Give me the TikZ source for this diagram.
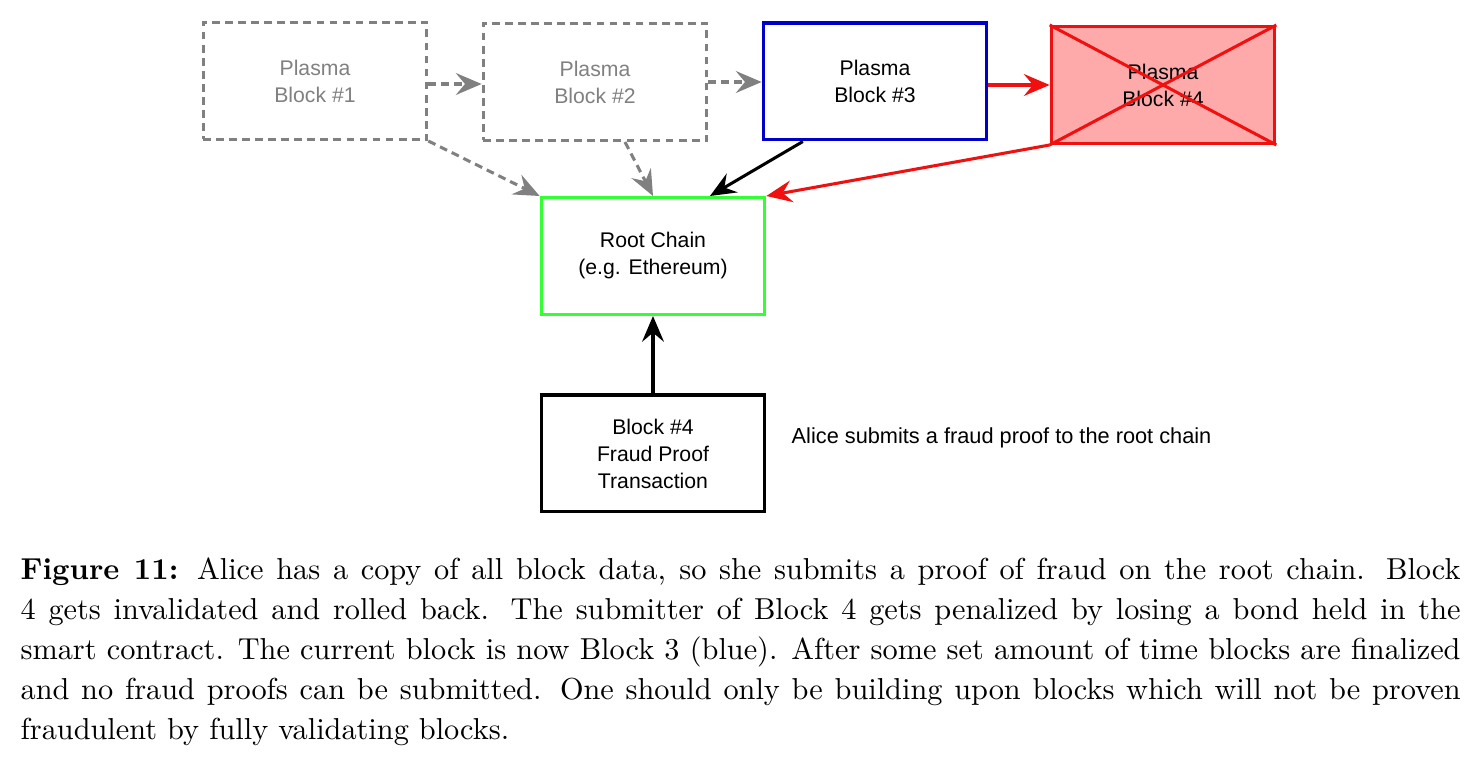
\documentclass[tikz,border=0pt]{standalone}
\usepackage{fontspec}
\newfontfamily\diagfont{Liberation Sans}
\usetikzlibrary{arrows.meta}
\definecolor{plgray}{HTML}{808080}
\definecolor{plblue}{HTML}{0000CC}
\definecolor{plgreen}{HTML}{33FF33}
\definecolor{plred}{HTML}{F01010}
\definecolor{plpink}{HTML}{FFAAAA}

\begin{document}
\begin{tikzpicture}[x=0.33pt, y=-0.33pt,
  blk/.style={draw, line width=1pt, minimum width=73.8pt, minimum height=38.6pt,
    align=center, font=\diagfont\fontsize{7}{8.9}\selectfont},
  old/.style={blk, plgray, text=plgray, dash pattern=on 2.6pt off 1.7pt},
  link/.style={line width=1pt, -{Stealth[length=8.5pt,width=7.2pt,inset=3pt]}},
  oldlink/.style={link, plgray, dash pattern=on 2.6pt off 1.7pt}]
\useasboundingbox (0,0) rectangle (1480,770);
% plasma chain
\node(B1) [old] at (315,81) {Plasma\\Block \#1};
\node(B2) [old] at (595,82) {Plasma\\Block \#2};
\node(B3) [blk, plblue, text=black] at (875,81.5) {Plasma\\Block \#3};
\node(B4) [blk, plred, fill=plpink, text=black] at (1163,85) {Plasma\\Block \#4};
\draw[plred, line width=1pt] (B4.north west) -- (B4.south east) (B4.north east) -- (B4.south west);
% root chain
\node(R) [blk, plgreen, text=black] at (653,256) {Root Chain\\(e.g. Ethereum)};
\node(F) [blk] at (653,453.5) {Block \#4\\Fraud Proof\\Transaction};
\node(T) [anchor=west, font=\diagfont\fontsize{7.18}{8.9}\selectfont] at (781,438) {Alice submits a fraud proof to the root chain};
% arrows
\draw[oldlink] (B1.east |- 0,84) -- (B2.west |- 0,84);
\draw[oldlink] (B2.east) -- (B3.west |- B2.east);
\draw[link, plred] (B3.east |- B4.west) -- (B4.west);
\draw[oldlink] (B1.south east) -- (R.north west);
\draw[oldlink] ([xshift=9.9pt]B2.south) -- (R.north);
\draw[link] ([xshift=-23.8pt]B3.south) -- ([xshift=18.8pt]R.north);
\draw[link, plred] (B4.south west) -- (R.north east);
\draw[link] (F.north) -- (R.south);
% caption
\node(C) [anchor=north west, inner sep=0pt, text width=475.2pt, align=justify,
  font=\fontsize{10}{13.2}\selectfont] at (20,557) {\textbf{Figure 11:} Alice has a copy of all block data, so she submits a proof of fraud on the root chain. Block\linebreak
4 gets invalidated and rolled back. The submitter of Block 4 gets penalized by losing a bond held in the\linebreak
smart contract. The current block is now Block 3 (blue). After some set amount of time blocks are finalized\linebreak
and no fraud proofs can be submitted. One should only be building upon blocks which will not be proven\linebreak
fraudulent by fully validating blocks.};
\end{tikzpicture}
\end{document}
